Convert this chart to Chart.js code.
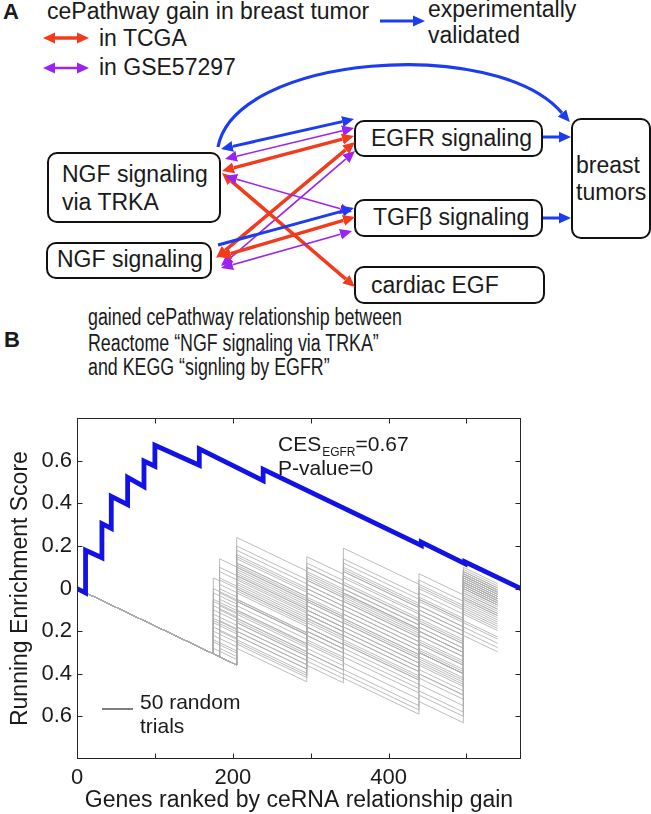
<!DOCTYPE html>
<html><head><meta charset="utf-8">
<script src="https://cdn.jsdelivr.net/npm/chart.js@4.4.1/dist/chart.umd.min.js"></script>
<style>
html,body{margin:0;padding:0;background:#fff;}
#page{position:relative;width:651px;height:814px;overflow:hidden;font-family:"Liberation Sans",Arial,Helvetica,sans-serif;}
#diagram{position:absolute;left:0;top:0;}
#chartBox{position:absolute;left:0;top:400px;width:651px;height:414px;}
</style></head>
<body><div id="page">
<svg id="diagram" width="651" height="400" xmlns="http://www.w3.org/2000/svg"></svg>
<div id="chartBox"><canvas id="c"></canvas></div>
</div>
<script>
// ================= Panel B data =================
const xTickValues = [0, 100, 200, 300, 400, 500];
const xTickLabels = ['0', '', '200', '', '400', ''];
const yTickValues = [-0.6, -0.4, -0.2, 0, 0.2, 0.4, 0.6];
const yTickLabels = ['0.6', '0.4', '0.2', '0', '0.2', '0.4', '0.6'];

const observedGeneRank = [0, 11, 11, 32, 32, 44, 44, 65, 65, 86, 86, 100, 100, 157, 157, 239, 239, 442, 442, 498, 498, 570];
const observedScore    = [0, -0.02, 0.18, 0.145, 0.305, 0.283, 0.433, 0.394, 0.522, 0.479, 0.599, 0.575, 0.673, 0.579, 0.656, 0.507, 0.56, 0.203, 0.218, 0.117, 0.126, 0];

// 50 random trials: ranks where hits cluster, score reached right after each hit (null = no hit there)
const trialJumpRanks = [175, 183, 205, 295, 342, 439, 496];
const trialEndRank = 540;
const trialMissStep = 0.00175;   // score drop per non-hit gene (slope)
const trialScoreAfterJump = [
  [0.05, 0.04, 0.24, 0.15, 0.19, 0.07, 0.10],
  [null, 0.14, null, 0.02, 0.12, 0.00, 0.08],
  [-0.10, null, 0.18, 0.05, 0.03, -0.05, 0.06],
  [null, -0.05, 0.12, 0.10, 0.06, -0.02, 0.07],
  [null, null, 0.05, -0.05, 0.08, -0.08, 0.04],
  [-0.20, null, 0.00, -0.12, -0.05, -0.15, 0.02],
  [null, 0.08, null, -0.10, -0.15, -0.25, 0.05],
  [null, null, -0.08, -0.20, 0.02, -0.12, 0.03],
  [-0.15, null, -0.05, -0.18, -0.22, -0.35, -0.05],
  [null, null, -0.15, -0.25, -0.30, -0.20, 0.00],
  [null, null, -0.28, -0.36, -0.42, -0.53, -0.22],
  [-0.25, null, -0.20, -0.30, -0.35, -0.45, -0.18],
  [null, -0.10, null, -0.22, -0.28, -0.40, -0.15],
  [null, null, 0.20, 0.08, null, -0.10, 0.05],
  [0.00, null, 0.15, 0.12, 0.10, 0.02, 0.09],
  [null, 0.02, 0.08, -0.02, -0.08, -0.20, 0.01],
  [null, null, -0.02, -0.08, -0.12, null, -0.02],
  [-0.05, null, null, -0.15, -0.18, -0.30, -0.08],
  [null, null, -0.18, -0.05, -0.10, -0.22, 0.03],
  [null, -0.20, -0.22, -0.28, -0.25, -0.38, -0.10],
  [-0.18, null, 0.10, 0.00, 0.14, 0.04, 0.08],
  [null, null, 0.02, null, 0.05, -0.06, 0.06],
  [null, null, -0.25, -0.32, -0.38, -0.50, -0.20],
  [-0.08, null, 0.06, -0.06, -0.02, -0.12, 0.04],
  [null, 0.05, 0.14, 0.04, 0.09, -0.04, 0.07],
  [null, null, -0.12, -0.24, -0.20, -0.33, -0.06],
  [-0.22, null, -0.18, -0.26, -0.32, -0.42, -0.12],
  [null, -0.15, 0.03, -0.08, -0.14, -0.26, 0.00],
  [null, null, -0.05, -0.16, -0.22, -0.34, -0.04],
  [-0.12, null, 0.00, -0.10, 0.00, -0.14, 0.02],
  [null, null, 0.12, 0.06, null, -0.16, 0.03],
  [null, -0.02, null, -0.12, -0.18, -0.30, -0.07],
  [-0.28, null, -0.26, -0.34, -0.40, -0.48, -0.16],
  [null, null, -0.10, -0.02, -0.06, -0.18, 0.04],
  [null, 0.10, null, 0.10, null, -0.08, 0.06],
  [-0.14, null, -0.16, -0.20, -0.26, -0.36, -0.09],
  [null, null, 0.16, 0.02, -0.04, 0.01, 0.07],
  [null, null, -0.22, -0.30, -0.16, -0.30, -0.03],
  [-0.02, null, -0.06, 0.04, -0.03, -0.18, 0.01],
  [null, -0.28, -0.24, -0.18, -0.24, -0.32, -0.05],
  [null, null, 0.09, -0.04, -0.10, -0.24, 0.00],
  [-0.24, null, -0.14, -0.22, -0.02, -0.10, 0.05],
  [null, null, -0.20, -0.12, -0.16, -0.28, -0.01],
  [null, 0.00, 0.11, 0.07, 0.08, -0.05, 0.06],
  [-0.06, null, -0.01, -0.14, -0.08, -0.22, 0.02],
  [null, null, -0.06, -0.20, -0.26, -0.40, -0.11],
  [null, -0.08, 0.01, 0.00, -0.06, -0.16, 0.03],
  [null, null, -0.16, -0.10, -0.14, -0.26, -0.02],
  [-0.16, null, 0.07, -0.06, -0.12, -0.20, 0.01],
  [null, null, -0.11, -0.18, -0.20, -0.30, -0.04]
];

// ================= Panel A (schematic) =================
const COLORS = {red: '#f23a1c', purple: '#9b22f2', blue: '#1c3cf0'};
const diagramBoxes = [
  {x: 48,  y: 153, w: 172, h: 69,  lines: ['NGF signaling', 'via TRKA'], tx: 62,  ty: [182, 210]},
  {x: 47,  y: 243, w: 164, h: 35,  lines: ['NGF signaling'],             tx: 57,  ty: [267]},
  {x: 355, y: 121, w: 187, h: 35,  lines: ['EGFR signaling'],            tx: 371, ty: [146]},
  {x: 355, y: 200, w: 187, h: 36,  lines: ['TGF\u03B2 signaling'],       tx: 373, ty: [225]},
  {x: 355, y: 267, w: 189, h: 36,  lines: ['cardiac EGF'],               tx: 371, ty: [293]},
  {x: 572, y: 119, w: 78,  h: 119, lines: ['breast', 'tumors'],          tx: 576, ty: [173, 200]}
];
const diagramArrows = [
  {c: 'blue',   w: 3,   from: [221, 149], to: [354, 119], heads: 'both'},
  {c: 'purple', w: 1.6, from: [225, 159], to: [354, 128], heads: 'both'},
  {c: 'red',    w: 3.5, from: [222, 171], to: [354, 136], heads: 'both'},
  {c: 'red',    w: 3.5, from: [216, 258], to: [355, 142], heads: 'both'},
  {c: 'purple', w: 1.6, from: [221, 266], to: [355, 151], heads: 'both'},
  {c: 'red',    w: 3.5, from: [222, 173], to: [355, 287], heads: 'both'},
  {c: 'purple', w: 1.6, from: [225, 176], to: [352, 212], heads: 'both'},
  {c: 'blue',   w: 3,   from: [218, 245], to: [354, 208], heads: 'end'},
  {c: 'red',    w: 3.5, from: [219, 257], to: [355, 217], heads: 'both'},
  {c: 'purple', w: 1.6, from: [221, 268], to: [352, 231], heads: 'both'},
  {c: 'blue',   w: 3,   from: [543, 137], to: [571, 137], heads: 'end'},
  {c: 'blue',   w: 3,   from: [543, 218], to: [571, 218], heads: 'end'},
  // legend arrows
  {c: 'red',    w: 3.5, from: [43, 38],  to: [89, 38],  heads: 'both'},
  {c: 'purple', w: 2.5, from: [43, 68],  to: [89, 68],  heads: 'both'},
  {c: 'blue',   w: 3,   from: [380, 21], to: [425, 21], heads: 'end'}
];
const diagramTexts = [
  {t: 'A', x: 3, y: 19, bold: true, size: 22},
  {t: 'cePathway gain in breast tumor', x: 47, y: 19},
  {t: 'in TCGA', x: 99, y: 46},
  {t: 'in GSE57297', x: 99, y: 75},
  {t: 'experimentally', x: 428, y: 17},
  {t: 'validated', x: 428, y: 43},
  {t: 'B', x: 4, y: 347, bold: true, size: 22},
  {t: 'gained cePathway relationship between', x: 88, y: 325, narrow: true},
  {t: 'Reactome \u201CNGF signaling via TRKA\u201D', x: 88, y: 351, narrow: true},
  {t: 'and KEGG \u201Csignling by EGFR\u201D', x: 88, y: 375, narrow: true}
];
const HEAD = 12;

const NS = 'http://www.w3.org/2000/svg';
const svg = document.getElementById('diagram');
function el(tag, attrs, parent) {
  const e = document.createElementNS(NS, tag);
  for (const k in attrs) e.setAttribute(k, attrs[k]);
  (parent || svg).appendChild(e);
  return e;
}
const defs = el('defs', {});
for (const name in COLORS) {
  const m = el('marker', {id: 'h-' + name, viewBox: '0 -6 12 12', refX: 0, refY: 0,
    markerWidth: 12, markerHeight: 12, markerUnits: 'userSpaceOnUse', orient: 'auto-start-reverse'}, defs);
  el('path', {d: 'M0,-5.5 L12,0 L0,5.5 Z', fill: COLORS[name]}, m);
}
diagramBoxes.forEach(b => {
  el('rect', {x: b.x, y: b.y, width: b.w, height: b.h, rx: 9, ry: 9, fill: '#fff', stroke: '#111', 'stroke-width': 2});
  b.lines.forEach((ln, i) => {
    const t = el('text', {x: b.tx, y: b.ty[i], 'font-size': 23, fill: '#1a1a1a', 'font-family': 'Liberation Sans, Arial, sans-serif'});
    t.textContent = ln;
  });
});
// big curved validated arrow
el('path', {d: 'M218,147 C235,55 495,35 562,113', fill: 'none', stroke: COLORS.blue, 'stroke-width': 3.2, 'marker-end': 'url(#h-blue)'});
diagramArrows.forEach(a => {
  const [x1, y1] = a.from, [x2, y2] = a.to;
  const dx = x2 - x1, dy = y2 - y1, L = Math.hypot(dx, dy), ux = dx / L, uy = dy / L;
  const s = a.heads === 'both' ? HEAD : 0, e = HEAD;
  const attrs = {x1: x1 + ux * s, y1: y1 + uy * s, x2: x2 - ux * e, y2: y2 - uy * e,
    stroke: COLORS[a.c], 'stroke-width': a.w, 'marker-end': 'url(#h-' + a.c + ')'};
  if (a.heads === 'both') attrs['marker-start'] = 'url(#h-' + a.c + ')';
  el('line', attrs);
});
diagramTexts.forEach(d => {
  const attrs = {'font-size': d.size || 23, fill: '#1a1a1a', 'font-family': 'Liberation Sans, Arial, sans-serif'};
  if (d.bold) attrs['font-weight'] = 'bold';
  if (d.narrow) { attrs.transform = 'translate(' + d.x + ',' + d.y + ') scale(0.775,1)'; attrs.x = 0; attrs.y = 0; }
  else { attrs.x = d.x; attrs.y = d.y; }
  const t = el('text', attrs);
  t.textContent = d.t;
});

// ================= Panel B chart =================
const observedPoints = observedGeneRank.map((x, i) => ({x: x, y: observedScore[i]}));
const trialDatasets = trialScoreAfterJump.map(row => {
  const pts = [{x: 0, y: 0}];
  let px = 0, py = 0;
  row.forEach((after, k) => {
    if (after === null) return;
    const xr = trialJumpRanks[k];
    pts.push({x: xr, y: py - trialMissStep * (xr - px)});
    pts.push({x: xr, y: after});
    px = xr; py = after;
  });
  pts.push({x: trialEndRank, y: py - trialMissStep * (trialEndRank - px)});
  return {data: pts, borderColor: 'rgb(172,172,172)', borderWidth: 0.8, pointRadius: 0, tension: 0, fill: false};
});

const FONT = 'Liberation Sans, Arial, Helvetica, sans-serif';
const frameTicks = {
  id: 'frameTicks',
  afterDatasetsDraw(chart) {
    const {ctx, chartArea: a, scales: {x, y}} = chart;
    const L = Math.round(a.left) + 0.5, R = Math.round(a.right) - 0.5, T = Math.round(a.top) + 0.5, B = Math.round(a.bottom) - 0.5;
    ctx.save();
    ctx.strokeStyle = '#262626'; ctx.lineWidth = 1;
    ctx.strokeRect(L, T, R - L, B - T);
    ctx.beginPath();
    xTickValues.forEach(v => {
      const px = Math.round(x.getPixelForValue(v)) + 0.5;
      ctx.moveTo(px, B); ctx.lineTo(px, B - 5);
      ctx.moveTo(px, T); ctx.lineTo(px, T + 5);
    });
    yTickValues.forEach(v => {
      const py = Math.round(y.getPixelForValue(v)) + 0.5;
      ctx.moveTo(L, py); ctx.lineTo(L + 5, py);
      ctx.moveTo(R, py); ctx.lineTo(R - 5, py);
    });
    ctx.stroke();
    ctx.restore();
  },
  afterDraw(chart) {
    const {ctx, chartArea: a} = chart;
    ctx.save();
    ctx.fillStyle = '#1a1a1a';
    ctx.textBaseline = 'alphabetic';
    ctx.textAlign = 'left';
    // CES annotation
    let ax = a.left + 201, ay = a.top + 33;
    ctx.font = '21px ' + FONT;
    ctx.fillText('CES', ax, ay);
    ax += ctx.measureText('CES').width;
    ctx.font = '12px ' + FONT;
    ctx.fillText('EGFR', ax + 1, ay + 5);
    ax += ctx.measureText('EGFR').width + 1;
    ctx.font = '21px ' + FONT;
    ctx.fillText('=0.67', ax, ay);
    ctx.fillText('P-value=0', a.left + 201, a.top + 57);
    // legend
    ctx.strokeStyle = '#555'; ctx.lineWidth = 1.5;
    ctx.beginPath();
    ctx.moveTo(a.left + 25, a.bottom - 50); ctx.lineTo(a.left + 56, a.bottom - 50);
    ctx.stroke();
    ctx.font = '21px ' + FONT;
    ctx.fillText('50 random', a.left + 63, a.bottom - 50);
    ctx.fillText('trials', a.left + 63, a.bottom - 26);
    ctx.restore();
  }
};

new Chart(document.getElementById('c'), {
  type: 'line',
  data: {
    datasets: [
      {data: observedPoints, borderColor: '#1212e6', borderWidth: 4.8, pointRadius: 0, tension: 0, fill: false, borderJoinStyle: 'miter'}
    ].concat(trialDatasets)
  },
  options: {
    responsive: true,
    maintainAspectRatio: false,
    animation: false,
    layout: {padding: {top: 15, right: 130, left: 0, bottom: 0}},
    plugins: {legend: {display: false}, tooltip: {enabled: false}},
    scales: {
      x: {
        type: 'linear', min: 0, max: 570,
        afterBuildTicks: s => { s.ticks = xTickValues.map(v => ({value: v})); },
        afterFit: s => { s.height = 55; },
        grid: {display: false, drawTicks: false},
        border: {display: false},
        ticks: {padding: 6, maxRotation: 0, autoSkip: false, color: '#1a1a1a', font: {family: FONT, size: 22},
          callback: (v, i) => xTickLabels[i]},
        title: {display: true, text: 'Genes ranked by ceRNA relationship gain', color: '#1a1a1a',
          font: {family: FONT, size: 23}, padding: {top: 0, bottom: 0}}
      },
      y: {
        type: 'linear', min: -0.8, max: 0.8,
        afterBuildTicks: s => { s.ticks = yTickValues.map(v => ({value: v})); },
        afterFit: s => { s.width = 77; },
        grid: {display: false, drawTicks: false},
        border: {display: false},
        ticks: {padding: 5, autoSkip: false, color: '#1a1a1a', font: {family: FONT, size: 22},
          callback: (v, i) => yTickLabels[i]},
        title: {display: true, text: 'Running Enrichment Score', color: '#1a1a1a',
          font: {family: FONT, size: 23}, padding: {top: 7, bottom: 0}}
      }
    }
  },
  plugins: [frameTicks]
});
</script>
</body></html>
